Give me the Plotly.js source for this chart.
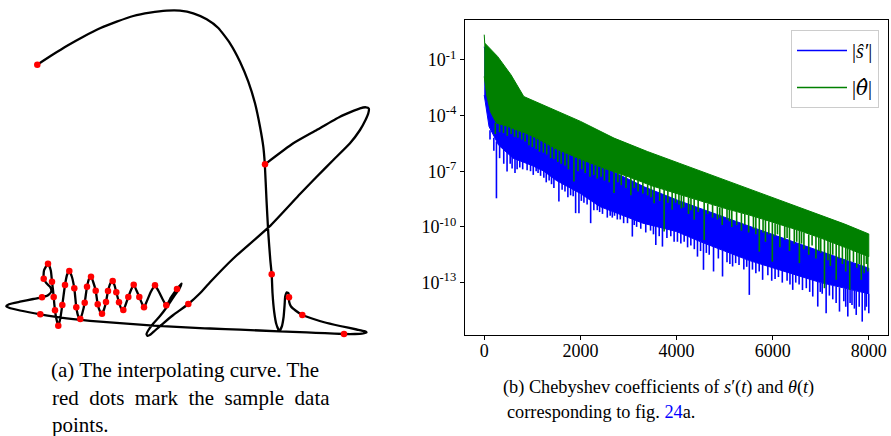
<!DOCTYPE html>
<html>
<head>
<meta charset="utf-8">
<script src="https://cdn.plot.ly/plotly-3.0.1.min.js"></script>
<style>html,body{margin:0;padding:0;background:#fff;}</style>
</head>
<body>
<div id="chart" style="width:891px;height:436px;"></div>
<script>
// ---------- (a) interpolating curve, in drawing units (x right, y down) ----------
const curvePath = [
 [37.3,64.7],[53.3,54.3],[66.7,46],[83.3,36.7],[100,28.3],[116.7,21.7],[133.3,16],[150,12.7],[166.7,10.7],[180,10.7],
 [193.3,13.3],[206.7,19.3],[218.3,28],[230,43.3],[240,61.7],[248.3,81.7],[255,103.3],[260,126.7],[263.3,146.7],[264.8,164],
 [266.5,200],[268.3,233.3],[270.3,260],[271.7,274.3],[272.5,293],[274.2,312],[276.3,324],[279.3,331],[281.8,326.5],[283.6,317],
 [284.6,305],[285.2,296.5],[286.8,292.3],[288.6,293.5],[289,297.3],[289.2,302],[291,306.5],[295.5,310.5],[302.3,315],[312,318.5],
 [323.3,322],[340,326],[356.7,329.5],[364.5,331.2],[366.5,332.3],[362,333.6],[355,334],[344,334],[325,333.2],[306.7,332.4],
 [279.3,331.3],[240,329.7],[210,328.5],[200,328.2],[153.3,325.6],[133.3,324.2],[100,321.7],[66.7,318.3],[40.3,314.3],[20,310.5],
 [9,307.8],[6.2,306.2],[9,304.2],[20,301.7],[33.3,299],[42,297.3],[48,295.2],[51.3,291.5],[50.2,287],[46.5,283.3],
 [43.7,278.7],[44,270.5],[48,263.7],[50.8,270.5],[52,281.7],[53,290],[53.7,297],[54.3,304],[55,310.3],[56.3,318.5],
 [58.3,325.7],[60.3,318.5],[62.3,305],[65,285],[67,275],[69.3,271],[71.8,276.5],[74.3,288.3],[76.3,307.3],[78,315.5],
 [80.3,319],[82.5,312.5],[84.7,302.7],[87,286.7],[89,279],[91,276.7],[93.2,282],[95.7,290.7],[97.7,304.3],[100,311.5],
 [102,313.7],[104,309.5],[106,302],[108,291],[110.3,283.5],[112.7,281],[114.6,285.5],[116.3,292.3],[119,302.3],[121,308],
 [123.3,310],[125.7,304.5],[128.3,297],[131,290],[133.7,284.7],[136.5,290.5],[139.3,297],[142,303.5],[144,307.3],[146.5,302],
 [151,291.5],[155,285.3],[158.5,291],[162.5,299],[166.3,305.3],[171,297.5],[177,289],[181.5,283.5],[179.5,288.5],[173.5,297],
 [166.5,307.5],[160,316],[153.3,323.5],[148.5,330],[146.5,334],[147.5,335.8],[150.5,334.5],[155,330.5],[163.3,323.3],[173.3,315],
 [188.3,304],[200,293.3],[210,282.3],[233.3,258.5],[269.3,226.7],[300,194],[316.7,176.7],[333.3,160],[350,143.3],[360,130],
 [365.5,120],[368.3,113.3],[368.8,108.5],[366,107.3],[360,108.3],[340,116.7],[316.7,130],[293.3,143.3],[265,164.3]
];
const samplePoints = [
 [37.3,64.7],[265,164.3],[271.7,274.3],[289,297.3],[302.3,315],[344,334],[188.3,304],[177,289],[166.3,305.3],[155,285.3],
 [144,307.3],[139.3,297],[133.7,284.7],[128.3,297],[123.3,310],[119,302.3],[116.3,292.3],[112.7,281],[108,291],[106,302],
 [102,313.7],[97.7,304.3],[95.7,290.7],[91,276.7],[87,286.7],[84.7,302.7],[80.3,319],[76.3,307.3],[74.3,288.3],[69.3,271],
 [65,285],[62.3,305],[58.3,325.7],[55,310.3],[53.7,297],[52,281.7],[48,263.7],[43.7,278.7],[42,297.3],[40.3,314.3]
];

// ---------- (b) Chebyshev coefficient magnitudes (log10 values) ----------
// |s'| : upper envelope, dense lower edge, spikes [index, from, tip]
const sTop = [[0,-0.3],[100,-1.8],[250,-2.8],[500,-3.6],[1000,-4.6],[1500,-5.4],[2000,-6.2],[2500,-6.8],[3325,-7.84],
 [4019,-8.56],[4784,-9.3],[5500,-9.95],[6417,-10.79],[7200,-11.5],[7999,-12.22]];
const sBase = [[0,-2.9],[100,-4.6],[300,-5.6],[600,-6.3],[1000,-6.7],[1240,-7.0],[1500,-7.5],[2000,-8.2],[2400,-8.9],
 [2700,-9.2],[3300,-9.8],[4000,-10.25],[4500,-10.8],[5000,-11.3],[5500,-11.8],[6000,-12.2],[6500,-12.6],[7000,-13.0],
 [7500,-13.3],[7999,-13.6]];
const sSpikes = [
 [120,-4.8,-5.3],[200,-5.2,-5.9],[254,-5.4,-8.46],[320,-5.6,-6.3],[406,-5.8,-6.6],[475,-5.9,-7.02],[540,-6.1,-6.6],
 [580,-6.2,-6.85],[640,-6.3,-7.1],[684,-6.3,-6.9],[740,-6.35,-6.8],[800,-6.4,-6.9],[892,-6.5,-6.95],[963,-6.6,-7.0],
 [1020,-6.65,-7.2],[1080,-6.7,-7.0],[1120,-6.75,-7.1],[1172,-6.85,-7.25],[1240,-6.95,-7.35],[1290,-7.05,-7.6],[1350,-7.1,-7.5],
 [1400,-7.2,-7.7],[1449,-7.3,-7.9],[1553,-7.5,-8.63],[1620,-7.6,-8.0],[1680,-7.7,-8.1],[1740,-7.75,-8.4],[1797,-7.8,-8.3],
 [1850,-7.9,-8.35],[1901,-7.95,-9.26],[1970,-8.1,-9.26],[2020,-8.15,-8.6],[2074,-8.25,-8.7],[2140,-8.35,-8.8],[2214,-8.45,-9.8],
 [2280,-8.55,-9.1],[2351,-8.65,-9.1],[2400,-8.75,-9.2],[2460,-8.8,-9.3],[2560,-8.95,-9.5],[2620,-9.0,-9.4],[2664,-9.05,-9.5],
 [2710,-9.1,-9.4],[2768,-9.15,-9.6],[2830,-9.2,-9.6],[2900,-9.3,-9.8],[2980,-9.35,-9.8],[3081,-9.45,-10.52],[3120,-9.5,-9.9],
 [3170,-9.55,-10.0],[3256,-9.65,-10.1],[3360,-9.75,-10.3],[3460,-9.85,-10.2],[3520,-9.9,-10.4],[3569,-9.9,-10.97],[3640,-9.95,-10.5],
 [3707,-10.0,-11.06],[3800,-10.05,-10.6],[3881,-10.1,-10.5],[3950,-10.2,-10.8],[4019,-10.25,-10.8],[4090,-10.3,-10.9],
 [4159,-10.4,-10.8],[4230,-10.5,-11.1],[4298,-10.55,-11.0],[4370,-10.6,-11.2],[4436,-10.7,-11.6],[4500,-10.8,-11.3],
 [4561,-10.85,-12.31],[4620,-10.9,-11.4],[4680,-10.95,-11.5],[4770,-11.05,-12.4],[4870,-11.15,-11.7],[4957,-11.25,-12.67],
 [5050,-11.35,-11.9],[5110,-11.4,-12.0],[5166,-11.45,-12.13],[5230,-11.5,-11.95],[5300,-11.55,-12.05],[5400,-11.7,-12.3],
 [5460,-11.75,-12.15],[5514,-11.8,-13.66],[5580,-11.85,-12.3],[5650,-11.9,-12.5],[5720,-11.95,-12.4],[5791,-12.0,-12.85],
 [5900,-12.1,-12.6],[5980,-12.15,-12.9],[6050,-12.2,-12.8],[6120,-12.25,-12.7],[6200,-12.3,-13.0],[6300,-12.4,-12.9],
 [6360,-12.45,-13.1],[6417,-12.5,-13.39],[6480,-12.55,-13.0],[6550,-12.6,-13.1],[6620,-12.65,-13.4],[6700,-12.75,-13.3],
 [6770,-12.8,-13.5],[6834,-12.85,-13.75],[6938,-12.95,-14.29],[6990,-13.0,-13.5],[7030,-13.0,-13.6],[7112,-13.05,-14.65],
 [7180,-13.1,-13.7],[7250,-13.15,-13.9],[7320,-13.2,-14.1],[7390,-13.25,-14.56],[7480,-13.3,-14.0],[7520,-13.3,-14.3],
 [7563,-13.35,-14.83],[7610,-13.38,-14.1],[7650,-13.4,-14.2],[7700,-13.42,-14.4],[7738,-13.45,-14.74],[7800,-13.48,-14.3],
 [7863,-13.5,-15.1],[7920,-13.52,-14.5],[7950,-13.55,-14.3],[7999,-13.6,-14.65]
];
// |theta| : upper envelope, dense lower edge, spikes [index, from, tip]
const thTop = [[0,0.35],[10,-0.1],[277,-0.82],[556,-1.81],[823,-2.98],[1309,-3.52],[2005,-4.32],[2700,-5.22],[3394,-5.94],
 [4055,-6.57],[4700,-7.18],[5400,-7.85],[6100,-8.5],[6800,-9.16],[7500,-9.85],[7999,-10.38]];
const thBase = [[0,-1.9],[50,-2.9],[130,-3.8],[250,-4.4],[500,-4.6],[1000,-5.1],[1500,-5.8],[2000,-6.35],[2500,-6.85],
 [3000,-7.3],[3500,-7.8],[4000,-8.2],[4500,-8.6],[5000,-9.0],[5500,-9.35],[6000,-9.75],[6500,-10.15],[7000,-10.6],[7500,-11.1],[7999,-11.6]];
const thSpikes = [
 [230,-4.4,-5.0],[320,-4.45,-4.9],[400,-4.5,-4.95],[480,-4.55,-5.1],[560,-4.6,-5.0],[630,-4.7,-5.15],[700,-4.8,-5.2],
 [780,-4.9,-5.3],[850,-5.0,-5.4],[930,-5.05,-5.6],[1000,-5.1,-5.7],[1080,-5.2,-5.8],[1150,-5.3,-5.95],[1230,-5.4,-6.0],
 [1300,-5.5,-6.1],[1380,-5.6,-6.3],[1450,-5.7,-6.35],[1530,-5.8,-6.5],[1600,-5.9,-6.6],[1680,-6.0,-6.7],[1750,-6.1,-6.9],
 [1866,-6.2,-7.56],[1950,-6.3,-7.0],[2030,-6.35,-6.9],[2100,-6.45,-7.1],[2200,-6.55,-7.3],[2280,-6.65,-7.2],[2350,-6.7,-7.4],
 [2430,-6.8,-7.3],[2500,-6.85,-7.5],[2600,-6.9,-7.6],[2700,-7.0,-8.18],[2780,-7.05,-7.6],[2850,-7.15,-7.75],[2950,-7.25,-7.9],
 [3050,-7.35,-8.3],[3120,-7.4,-7.9],[3200,-7.5,-8.1],[3300,-7.6,-8.2],[3400,-7.7,-8.3],[3470,-7.75,-8.4],[3534,-7.8,-8.72],
 [3650,-7.9,-8.6],[3742,-8.0,-10.25],[3820,-8.05,-8.7],[3909,-8.1,-9.08],[3980,-8.15,-8.7],[4050,-8.2,-8.8],[4100,-8.25,-9.0],
 [4150,-8.3,-8.95],[4250,-8.4,-9.3],[4300,-8.45,-9.1],[4367,-8.5,-9.62],[4450,-8.55,-9.2],[4575,-8.65,-10.7],[4650,-8.75,-9.3],
 [4750,-8.8,-9.5],[4850,-8.9,-9.6],[4900,-8.95,-9.5],[4950,-8.95,-9.9],[5050,-9.0,-9.6],[5100,-9.05,-9.7],[5150,-9.1,-10.0],
 [5250,-9.2,-9.9],[5350,-9.25,-10.2],[5420,-9.3,-9.9],[5500,-9.35,-10.3],[5600,-9.4,-10.1],[5650,-9.45,-10.4],[5722,-9.5,-11.33],
 [5800,-9.6,-10.3],[5850,-9.6,-10.8],[5920,-9.7,-10.4],[5993,-9.75,-11.87],[6050,-9.8,-10.5],[6100,-9.85,-10.4],[6150,-9.85,-11.1],
 [6250,-9.95,-10.7],[6300,-10.0,-10.6],[6350,-10.0,-11.3],[6450,-10.1,-10.9],[6500,-10.15,-10.8],[6556,-10.2,-11.95],
 [6600,-10.25,-10.9],[6650,-10.3,-11.2],[6750,-10.4,-11.5],[6820,-10.45,-11.0],[6900,-10.5,-11.7],[6960,-10.55,-11.3],
 [7000,-10.6,-11.4],[7077,-10.65,-13.3],[7150,-10.7,-11.8],[7200,-10.75,-12.1],[7250,-10.8,-11.5],[7321,-10.9,-12.85],
 [7380,-10.95,-11.7],[7450,-11.0,-12.0],[7520,-11.1,-12.4],[7560,-11.15,-11.8],[7603,-11.2,-13.39],[7680,-11.25,-11.9],
 [7750,-11.3,-12.2],[7800,-11.35,-12.0],[7843,-11.4,-12.85],[7900,-11.45,-12.5],[7950,-11.5,-12.0],[7980,-11.55,-12.4]
];
const xTickVals = [0, 2000, 4000, 6000, 8000];
const yTickExps = [-13, -10, -7, -4, -1];

const pw = v => Math.pow(10, v);
function band(top, base, color) {
  const pts = top.concat(base.slice().reverse());
  return {x: pts.map(p => p[0]), y: pts.map(p => pw(p[1])), mode: 'lines', fill: 'toself',
    fillcolor: color, line: {color: color, width: 1}, showlegend: false, hoverinfo: 'skip', xaxis: 'x', yaxis: 'y'};
}
function spikes(list, color, name, grp) {
  const x = [], y = [];
  list.forEach(s => { x.push(s[0], s[0], null); y.push(pw(s[1]), pw(s[2]), null); });
  return {x, y, mode: 'lines', line: {color: color, width: 1.6}, name: name, legendgroup: grp,
    showlegend: true, hoverinfo: 'skip', xaxis: 'x', yaxis: 'y'};
}

const traces = [
  {x: curvePath.map(p => p[0]), y: curvePath.map(p => p[1]), mode: 'lines',
   line: {color: 'black', width: 2.3, shape: 'spline', smoothing: 0.5}, xaxis: 'x2', yaxis: 'y2', showlegend: false, hoverinfo: 'skip'},
  {x: samplePoints.map(p => p[0]), y: samplePoints.map(p => p[1]), mode: 'markers',
   marker: {color: 'red', size: 6.5}, xaxis: 'x2', yaxis: 'y2', showlegend: false, hoverinfo: 'skip'},
  band(sTop, sBase, 'blue'),
  spikes(sSpikes, 'blue', '|<i>ŝ′</i>|', 's'),
  band(thTop, thBase, 'green'),
  spikes(thSpikes, 'green', '|<span style="font-family:DejaVu Serif;font-style:italic">θ\u0302</span>|', 't')
];

const W = 891, H = 436;
const serif = 'Liberation Serif';
const cap = (txt, px, py, sz) => ({text: txt, xref: 'paper', yref: 'paper', x: px / W, y: 1 - py / H,
  xanchor: 'left', yanchor: 'middle', showarrow: false, font: {family: serif, size: sz, color: 'black'}});
const nb = '\u00A0';

const layout = {
  width: W, height: H, margin: {l: 0, r: 0, t: 0, b: 0},
  paper_bgcolor: 'white', plot_bgcolor: 'white',
  font: {family: serif, color: 'black'},
  showlegend: true,
  xaxis: {domain: [465 / W, 888 / W], range: [-400, 8399], anchor: 'y', showline: true, mirror: true,
    linecolor: 'black', linewidth: 1.2, ticks: 'outside', ticklen: 3.5, tickcolor: 'black', tickwidth: 1,
    ticklabelstandoff: -4,
    tickvals: xTickVals, ticktext: xTickVals.map(String), tickfont: {family: serif, size: 18, color: 'black'},
    showgrid: false, zeroline: false},
  yaxis: {domain: [1 - 335 / H, 1 - 20 / H], type: 'log', range: [-15.82, 1.14], anchor: 'x', showline: true, mirror: true,
    linecolor: 'black', linewidth: 1.2, ticks: 'outside', ticklen: 4, tickcolor: 'black', tickwidth: 1,
    tickvals: yTickExps.map(pw), ticktext: yTickExps.map(e => '10<sup>' + e + '</sup>'),
    tickfont: {family: serif, size: 18, color: 'black'}, showgrid: false, zeroline: false},
  xaxis2: {domain: [0, 400 / W], range: [0, 400], anchor: 'y2', visible: false},
  yaxis2: {domain: [1 - 350 / H, 1], range: [350, 0], anchor: 'x2', visible: false},
  legend: {x: 879 / W, y: 1 - 30 / H, xanchor: 'right', yanchor: 'top', bordercolor: '#cccccc', borderwidth: 1,
    bgcolor: 'rgba(255,255,255,0.85)', font: {family: serif, size: 20, color: 'black'}, traceorder: 'grouped',
    tracegroupgap: 8, itemwidth: 50},
  annotations: [
    cap('(a) The interpolating curve. The', 49, 370, 21),
    cap('red' + nb + nb + 'dots' + nb + nb + 'mark' + nb + nb + 'the' + nb + nb + 'sample' + nb + nb + 'data', 50, 398, 21),
    cap('points.', 50, 425, 21),
    cap('(b) Chebyshev coefficients of <i>s</i>′(<i>t</i>) and <i>θ</i>(<i>t</i>)', 501, 387, 18.3),
    cap('corresponding to fig. <span style="color:blue">24</span>a.', 505, 412, 18.3)
  ]
};

Plotly.newPlot('chart', traces, layout, {staticPlot: true, displayModeBar: false});
</script>
</body>
</html>
